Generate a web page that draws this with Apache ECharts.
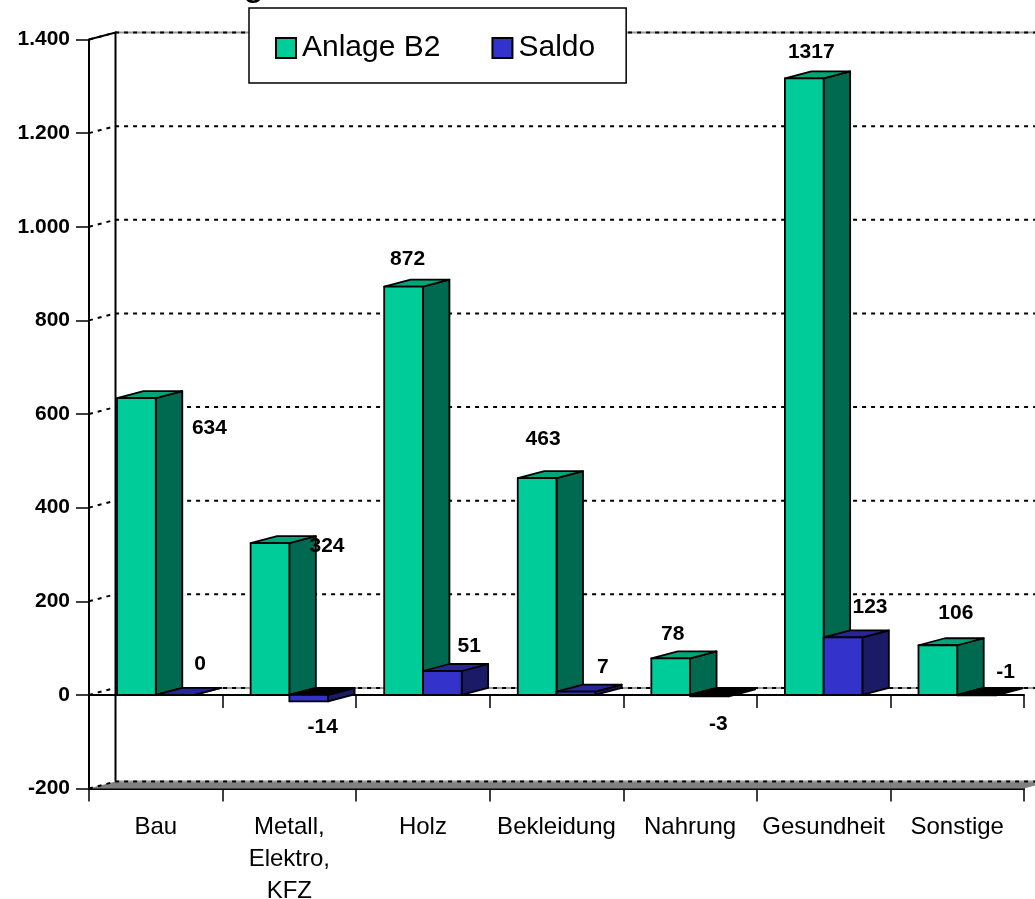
<!DOCTYPE html>
<html>
<head>
<meta charset="utf-8">
<title>Anlage B2 und Saldo</title>
<script src="https://cdn.jsdelivr.net/npm/echarts@6/dist/echarts.min.js"></script>
<style>
html, body { margin: 0; padding: 0; background: #fff; overflow: hidden; }
#chart { width: 1035px; height: 899px; }
</style>
</head>
<body>
<div id="chart"></div>
<script>
// Werte
var categories = ["Bau", "Metall,\nElektro,\nKFZ", "Holz", "Bekleidung", "Nahrung", "Gesundheit", "Sonstige"];
var anlageB2 = [634, 324, 872, 463, 78, 1317, 106];
var saldo = [0, -14, 51, 7, -3, 123, -1];
var yTicks = [-200, 0, 200, 400, 600, 800, 1000, 1200, 1400];

// label offsets from the top of each bar, the original labels were placed by hand
var anlageLabelShift = [[73, 30], [57, 3], [4, -27], [6, -39], [2, -24], [7, -26], [18, -32]];
var saldoLabelShift = [[25, -31], [14, 26], [27, -25], [27, -24], [9, 28], [27, -30], [29, -23]];

var FONT = "'Liberation Sans', Arial, sans-serif";
var DEPTH_X = 26.5;
var DEPTH_Y = -7;
var BAR_RATIO = 0.29;

function rowsOf(values) {
  return values.map(function (v, i) { return [i, v]; });
}

function face(points, fill) {
  return {
    type: "polygon",
    shape: { points: points },
    style: { fill: fill, stroke: "#000", lineWidth: 1.8, lineJoin: "round" }
  };
}

function renderWall(params, api) {
  var tick = api.value(1);
  var box = params.coordSys;
  var y = api.coord([0, tick])[1];
  var x0 = box.x;
  var x1 = box.x + DEPTH_X;
  var x2 = box.x + box.width + DEPTH_X;
  var by = y + DEPTH_Y;
  var children = [];

  if (tick === yTicks[0]) {
    children.push({
      type: "polygon",
      shape: { points: [[x0, y], [x1, by], [x2, by], [x0 + box.width, y]] },
      style: { fill: "#808080" }
    });
  }
  if (tick === yTicks[0] || tick === 0 || tick === yTicks[yTicks.length - 1]) {
    children.push({
      type: "line",
      shape: { x1: x1, y1: by, x2: x2, y2: by },
      style: { stroke: "#9a9a9a", lineWidth: 2 }
    });
  }
  children.push({
    type: "polyline",
    shape: { points: [[x0, y], [x1, by], [x2, by]] },
    style: { stroke: "#000", lineWidth: 2, lineDash: [4, 5], fill: null }
  });
  if (tick === yTicks[yTicks.length - 1]) {
    // left wall and its top edge
    children.push({
      type: "polyline",
      shape: { points: [[x0, y], [x1, by], [x1, api.coord([0, yTicks[0]])[1] + DEPTH_Y]] },
      style: { stroke: "#000", lineWidth: 2, fill: null }
    });
  }
  return { type: "group", children: children };
}

function barRenderer(side, front, dark, top, negativeTop) {
  return function (params, api) {
    var i = api.value(0);
    var v = api.value(1);
    var c = api.coord([i, v]);
    var zero = api.coord([i, 0])[1];
    var w = api.size([1, 0])[0] * BAR_RATIO;
    var x0 = side === 0 ? c[0] - w : c[0];
    var x1 = x0 + w;
    var hi = Math.min(c[1], zero);
    var lo = Math.max(c[1], zero);
    return {
      type: "group",
      children: [
        face([[x1, hi], [x1 + DEPTH_X, hi + DEPTH_Y], [x1 + DEPTH_X, lo + DEPTH_Y], [x1, lo]], dark),
        face([[x0, hi], [x0 + DEPTH_X, hi + DEPTH_Y], [x1 + DEPTH_X, hi + DEPTH_Y], [x1, hi]], v < 0 ? negativeTop : top),
        face([[x0, hi], [x1, hi], [x1, lo], [x0, lo]], front)
      ]
    };
  };
}

function labelRenderer(side, shifts) {
  return function (params, api) {
    var i = api.value(0);
    var v = api.value(1);
    var c = api.coord([i, v]);
    var w = api.size([1, 0])[0] * BAR_RATIO;
    var cx = side === 0 ? c[0] - w / 2 : c[0] + w / 2;
    return {
      type: "text",
      style: {
        x: cx + shifts[i][0],
        y: c[1] + shifts[i][1],
        text: String(v),
        align: "center",
        verticalAlign: "middle",
        fill: "#000",
        font: "bold 21px " + FONT
      }
    };
  };
}

var chart = echarts.init(document.getElementById("chart"));
var option = {
  animation: false,
  backgroundColor: "#fff",
  textStyle: { fontFamily: FONT },
  grid: { left: 89, top: 39.5, width: 935, height: 749, outerBoundsMode: "none" },
  legend: {
    left: 249,
    top: 8,
    z: 10,
    orient: "horizontal",
    icon: "rect",
    itemWidth: 20,
    itemHeight: 20,
    itemGap: 51,
    padding: [25, 31, 20, 26],
    backgroundColor: "#fff",
    borderColor: "#000",
    borderWidth: 1.5,
    data: ["Anlage B2", "Saldo"],
    textStyle: { fontSize: 30, color: "#000", fontFamily: FONT, padding: [0, 0, 0, 1] }
  },
  graphic: [{
    type: "text",
    z: 20,
    style: { x: 243, y: -34, text: "g", fill: "#000", font: "38px " + FONT }
  }],
  xAxis: [
    {
      type: "category",
      data: categories,
      position: "bottom",
      axisLine: { show: true, onZero: true, lineStyle: { color: "#000", width: 2 } },
      axisTick: { show: true, length: 13, lineStyle: { color: "#000", width: 1.5 } },
      axisLabel: { show: false }
    },
    {
      type: "category",
      data: categories,
      position: "bottom",
      axisLine: { show: true, onZero: false, lineStyle: { color: "#000", width: 2 } },
      axisTick: { show: true, length: 13, lineStyle: { color: "#000", width: 1.5 } },
      axisLabel: {
        show: true,
        interval: 0,
        margin: 23,
        fontSize: 24,
        lineHeight: 32,
        color: "#000",
        fontFamily: FONT
      }
    }
  ],
  yAxis: {
    type: "value",
    min: yTicks[0],
    max: yTicks[yTicks.length - 1],
    interval: 200,
    splitLine: { show: false },
    axisLine: { show: true, onZero: false, lineStyle: { color: "#000", width: 2 } },
    axisTick: { show: true, length: 13, lineStyle: { color: "#000", width: 1.5 } },
    axisLabel: {
      margin: 19,
      fontSize: 21,
      fontWeight: "bold",
      color: "#000",
      fontFamily: FONT,
      formatter: function (v) {
        return String(v).replace(/\B(?=(\d{3})+$)/g, ".");
      }
    }
  },
  series: [
    {
      name: "wall",
      type: "custom",
      z: 1,
      silent: true,
      data: rowsOf(yTicks),
      encode: { x: 0, y: 1 },
      renderItem: renderWall
    },
    {
      name: "Anlage B2",
      type: "custom",
      z: 2,
      data: rowsOf(anlageB2),
      encode: { x: 0, y: 1 },
      itemStyle: { color: "#00cc99", borderColor: "#000", borderWidth: 1.5 },
      renderItem: barRenderer(0, "#00cc99", "#006a50", "#00a67a", "#000")
    },
    {
      name: "Saldo",
      type: "custom",
      z: 3,
      data: rowsOf(saldo),
      encode: { x: 0, y: 1 },
      itemStyle: { color: "#3333cc", borderColor: "#000", borderWidth: 1.5 },
      renderItem: barRenderer(1, "#3333cc", "#1a1a66", "#26269a", "#000")
    },
    {
      name: "labelsAnlage",
      type: "custom",
      z: 5,
      silent: true,
      data: rowsOf(anlageB2),
      encode: { x: 0, y: 1 },
      renderItem: labelRenderer(0, anlageLabelShift)
    },
    {
      name: "labelsSaldo",
      type: "custom",
      z: 5,
      silent: true,
      data: rowsOf(saldo),
      encode: { x: 0, y: 1 },
      renderItem: labelRenderer(1, saldoLabelShift)
    }
  ]
};
chart.setOption(option);
</script>
</body>
</html>
